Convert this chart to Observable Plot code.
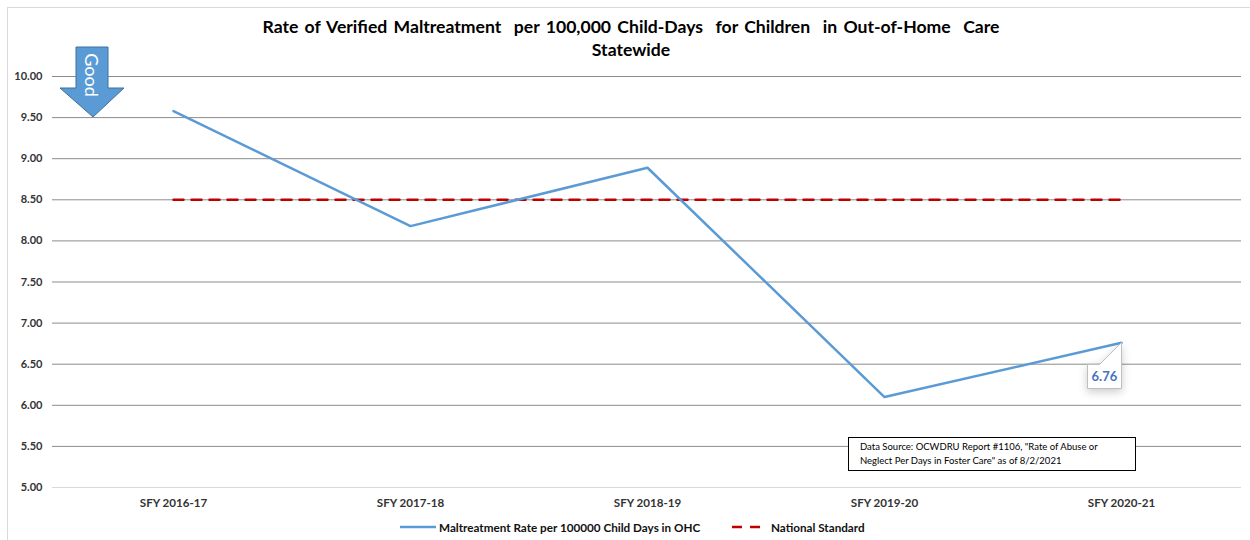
<!DOCTYPE html>
<html>
<head>
<meta charset="utf-8">
<script src="https://cdn.jsdelivr.net/npm/d3@7"></script>
<script src="https://cdn.jsdelivr.net/npm/@observablehq/plot@0.6"></script>
<style>
  body { margin: 0; background: #fff; font-family: Lato, "DejaVu Sans", sans-serif; }
  #wrap { position: relative; width: 1250px; height: 540px; overflow: hidden; background: #fff; }
  #frame { position: absolute; left: 7px; top: 7px; width: 1280px; height: 600px; border: 1px solid #d9d9d9; }
  #plot { position: absolute; left: 0; top: 0; }
  #title { position: absolute; left: 0; top: 15px; width: 1262px; text-align: center; font-weight: bold; font-size: 17.6px; line-height: 23px; color: #000; word-spacing: 2px; }
  #source { position: absolute; left: 848px; top: 437px; width: 275px; height: 30px; border: 1px solid #000; background: #fff; font-size: 9.5px; line-height: 14px; padding: 2px 0 0 11px; color: #000; }
  #legend { position: absolute; top: 519px; left: 0; width: 1250px; height: 16px; font-size: 11.7px; font-weight: bold; color: #111; }
  #legend .item { position: absolute; top: 0; display: flex; align-items: center; height: 16px; }
  #legend svg { margin-right: 3px; }
  #arrow { position: absolute; left: 0; top: 0; }
  .tipbox text { fill: #4472c4; }
</style>
</head>
<body>
<div id="wrap">
  <div id="frame"></div>
  <div id="plot"></div>
  <div id="title">Rate of Verified Maltreatment&nbsp; per 100,000 Child-Days&nbsp; for Children&nbsp; in Out-of-Home&nbsp; Care<br>Statewide</div>
  <svg id="arrow" width="140" height="130">
    <polygon points="76,47 108,47 108,88 124,88 93,117 60,88 76,88" fill="#5b9bd5" stroke="#41719c" stroke-width="1"/>
    <text transform="translate(92,75) rotate(90)" text-anchor="middle" dominant-baseline="central" fill="#fff" font-size="18" font-family="Lato, sans-serif">Good</text>
  </svg>
  <div id="source">Data Source: OCWDRU Report #1106, "Rate of Abuse or<br>Neglect Per Days in Foster Care" as of 8/2/2021</div>
  <div id="legend">
    <div class="item" style="left:400px"><svg width="36" height="6"><line x1="0" y1="3" x2="36" y2="3" stroke="#5b9bd5" stroke-width="2.5"/></svg>Maltreatment Rate per 100000 Child Days in OHC</div>
    <div class="item" style="left:732px"><svg width="36" height="6"><line x1="0" y1="3" x2="30" y2="3" stroke="#c00000" stroke-width="2.5" stroke-dasharray="10,8"/></svg>National Standard</div>
  </div>
</div>
<script>
const years = ["SFY 2016-17", "SFY 2017-18", "SFY 2018-19", "SFY 2019-20", "SFY 2020-21"];
const rates = [9.58, 8.18, 8.89, 6.10, 6.76];
const nationalStandard = [8.5, 8.5, 8.5, 8.5, 8.5];
const yTicks = [5, 5.5, 6, 6.5, 7, 7.5, 8, 8.5, 9, 9.5, 10];

const rateData = years.map((y, i) => ({year: y, value: rates[i]}));
const stdData = years.map((y, i) => ({year: y, value: nationalStandard[i]}));
const lastPoint = [rateData[rateData.length - 1]];

const chart = Plot.plot({
  width: 1250,
  height: 540,
  marginTop: 76,
  marginBottom: 53,
  marginLeft: 52,
  marginRight: 9,
  style: {fontFamily: "Lato, sans-serif", background: "transparent"},
  x: {type: "point", domain: years, padding: 0.5},
  y: {domain: [5, 10]},
  marks: [
    Plot.gridY(yTicks.filter(d => d > 5), {stroke: "#8c8c8c", strokeOpacity: 1, strokeWidth: 1}),
    Plot.ruleY([5], {stroke: "#d9d9d9", strokeWidth: 1}),
    Plot.axisY({ticks: yTicks, tickSize: 0, tickPadding: 10, tickFormat: d => d.toFixed(2), fontSize: 11, fontWeight: "bold", fill: "#333", label: null}),
    Plot.axisX({tickSize: 0, tickPadding: 11, fontSize: 11.6, fontWeight: "bold", fill: "#333", label: null}),
    Plot.line(stdData, {x: "year", y: "value", stroke: "#c00000", strokeWidth: 2.5, strokeDasharray: "10,8"}),
    Plot.line(rateData, {x: "year", y: "value", stroke: "#5b9bd5", strokeWidth: 2.5}),
    Plot.tip(lastPoint, {x: "year", y: "value", title: d => d.value.toFixed(2), anchor: "top-right", pointerSize: 22, fill: "white", stroke: "#bfbfbf", fontSize: 13, fontWeight: "bold", textPadding: 4, className: "tipbox"})
  ]
});
document.getElementById("plot").appendChild(chart);
</script>
</body>
</html>
